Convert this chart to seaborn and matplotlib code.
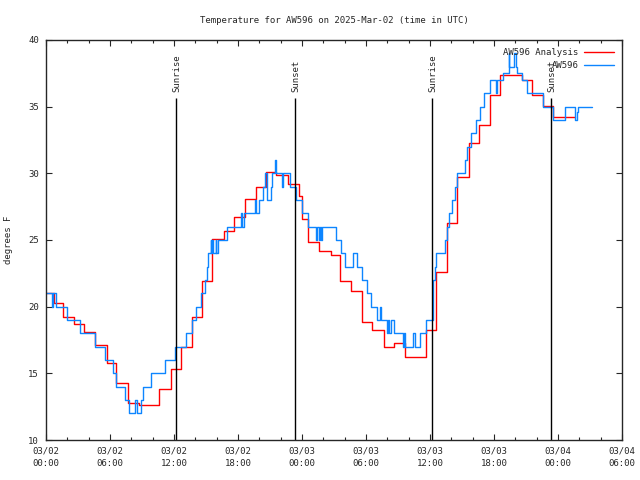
import pandas as pd
import matplotlib
matplotlib.use('Agg')
import matplotlib.pyplot as plt
import seaborn as sns

# hours since 03/02 00:00 UTC, temperature in F
analysis_hours = [0, 0.75, 1.6, 2.65, 3.6, 4.6, 5.7, 6.6, 7.65, 8.7, 10.6, 11.7, 12.7, 13.7,
                  14.6, 15.6, 16.7, 17.65, 18.7, 19.7, 20.6, 21.6, 22.7, 23.7, 24.0, 24.6,
                  25.6, 26.7, 27.6, 28.6, 29.6, 30.6, 31.65, 32.6, 33.65, 35.6, 36.6, 37.6,
                  38.55, 39.65, 40.6, 41.6, 42.55, 44.65, 45.6, 46.55, 47.55, 49.6]
analysis_temp = [21.0, 20.3, 19.25, 18.7, 18.1, 17.1, 15.75, 14.25, 12.75, 12.6, 13.85, 15.3,
                 16.95, 19.2, 21.9, 25.05, 25.7, 26.7, 28.1, 28.95, 30.1, 29.9, 29.2, 28.3,
                 26.6, 24.85, 24.2, 23.85, 21.9, 21.2, 18.85, 18.25, 17.0, 17.25, 16.2, 18.25,
                 22.6, 26.3, 29.7, 32.25, 33.6, 35.9, 37.4, 37.0, 35.9, 35.05, 34.25, 34.25]

obs_hours = [0.0, 0.6, 0.7, 0.9, 1.95, 3.15, 4.55, 5.55, 6.25, 6.6, 7.45, 7.8, 8.35, 8.5,
             8.9, 9.05, 9.85, 11.15, 12.1, 13.1, 13.7, 14.05, 14.55, 14.9, 15.05, 15.2,
             15.45, 15.5, 15.6, 15.65, 15.9, 15.95, 16.1, 16.95, 18.3, 18.4, 18.55, 19.6,
             19.65, 19.95, 20.3, 20.55, 20.75, 21.05, 21.2, 21.5, 21.6, 22.1, 22.25, 22.9,
             23.4, 24.0, 24.6, 25.3, 25.45, 25.55, 25.65, 25.8, 25.9, 27.2, 27.7, 28.0,
             28.8, 29.2, 29.6, 30.05, 30.45, 31.05, 31.3, 31.4, 31.95, 32.05, 32.2, 32.3,
             32.6, 33.5, 33.55, 33.65, 34.45, 34.55, 35.1, 35.6, 36.25, 36.3, 36.45, 36.6,
             37.4, 37.55, 37.75, 38.1, 38.3, 38.55, 39.3, 39.5, 39.8, 40.35, 40.7, 41.1,
             41.6, 42.2, 42.3, 42.8, 43.4, 43.45, 43.9, 44.05, 44.2, 44.6, 45.1, 46.55,
             47.55, 48.65, 49.6, 49.75, 49.85, 51.2]
obs_temp = [21, 20, 21, 20, 19, 18, 17, 16, 15, 14, 13, 12, 13, 12,
            13, 14, 15, 16, 17, 18, 19, 20, 21, 22, 23, 24,
            25, 24, 25, 24, 25, 24, 25, 26, 27, 26, 27, 28,
            27, 28, 29, 30, 28, 29, 30, 31, 30, 29, 30, 29,
            28, 27, 26, 25, 26, 25, 26, 25, 26, 25, 24, 23,
            24, 23, 22, 21, 20, 19, 20, 19, 18, 19, 18, 19,
            18, 17, 18, 17, 18, 17, 18, 19, 20, 22, 23, 24,
            25, 26, 27, 28, 29, 30, 31, 32, 33, 34, 35, 36,
            37, 36, 37, 37.5, 39, 38, 39, 38, 37.5, 37, 36, 35,
            34, 35, 34, 34.6, 35, 35]

sun_hours = [12.19, 23.34, 36.19, 47.34]
sun_labels = ['Sunrise', 'Sunset', 'Sunrise', 'Sunset']

tick_hours = [0, 6, 12, 18, 24, 30, 36, 42, 48, 54]
tick_labels = ['03/02\n00:00', '03/02\n06:00', '03/02\n12:00', '03/02\n18:00',
               '03/03\n00:00', '03/03\n06:00', '03/03\n12:00', '03/03\n18:00',
               '03/04\n00:00', '03/04\n06:00']

analysis_df = pd.DataFrame({'hour': analysis_hours, 'temp': analysis_temp})
obs_df = pd.DataFrame({'hour': obs_hours, 'temp': obs_temp})

sns.set_style('ticks')
plt.rcParams['font.family'] = ['DejaVu Sans Mono']
plt.rcParams['font.size'] = 6.5

fig = plt.figure(figsize=(6.4, 4.8), dpi=100)
ax = fig.add_axes([46 / 640, 40 / 480, 576 / 640, 400 / 480])

sns.lineplot(data=analysis_df, x='hour', y='temp', drawstyle='steps-post', color='#ff0000',
             linewidth=1, label='AW596 Analysis', ax=ax)
sns.lineplot(data=obs_df, x='hour', y='temp', drawstyle='steps-post', color='#0d85ff',
             linewidth=1, label='AW596', ax=ax)

for h, lab in zip(sun_hours, sun_labels):
    ax.vlines(h, 10, 35.65, color='black', linewidth=1)
    ax.text(h + 0.1, 36.1, lab, rotation=90, ha='center', va='bottom', fontsize=6.5)

ax.set_xlim(0, 54)
ax.set_ylim(10, 40)
ax.set_xticks(tick_hours)
ax.set_xticklabels(tick_labels)
for t in ax.get_xticklabels():
    t.set_linespacing(1.45)
ax.set_xticks(range(0, 55, 2), minor=True)
ax.set_yticks(range(10, 41, 5))
ax.tick_params(which='both', direction='in', top=True, right=True, width=0.8)
ax.tick_params(which='major', length=4.5, pad=5)
ax.tick_params(which='minor', length=2.5)
for sp in ax.spines.values():
    sp.set_linewidth(1)
    sp.set_visible(True)

ax.set_xlabel('')
ax.set_ylabel('degrees F', fontsize=6.5, labelpad=11)
ax.set_title('Temperature for AW596 on 2025-Mar-02 (time in UTC)', fontsize=6.5, pad=12)

leg = ax.legend(loc='upper right', frameon=False, markerfirst=False, fontsize=6.5,
                handlelength=3.3, borderaxespad=0.5, labelspacing=0.45, handletextpad=0.6)

fig.savefig('out.png', dpi=100)
